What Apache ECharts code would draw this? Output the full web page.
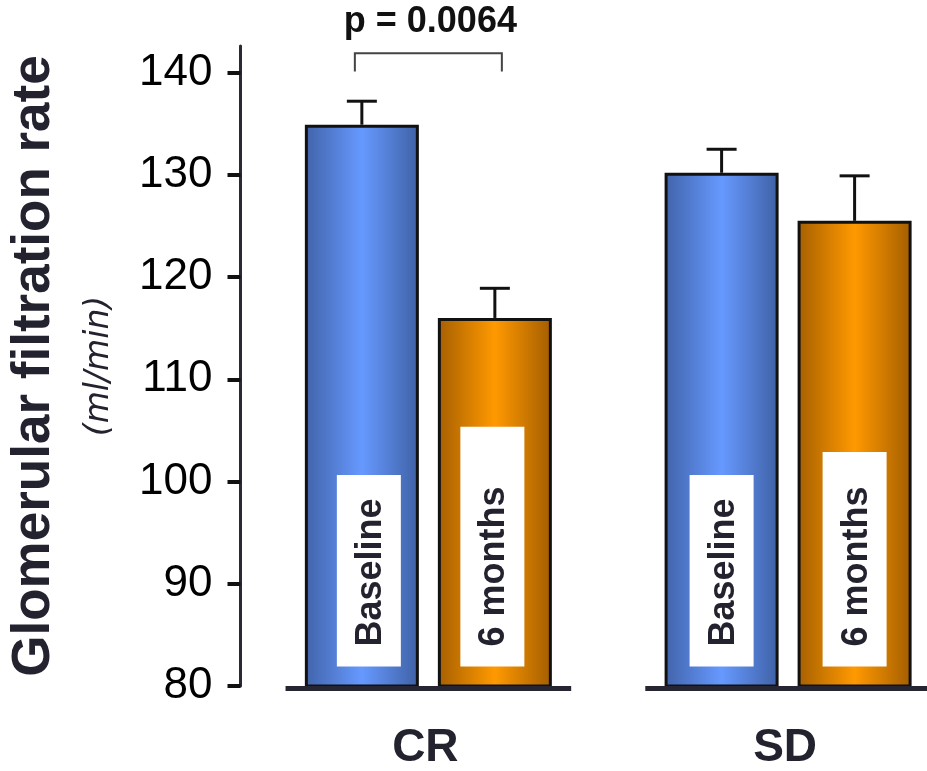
<!DOCTYPE html>
<html>
<head>
<meta charset="utf-8">
<script src="https://cdn.jsdelivr.net/npm/echarts@6/dist/echarts.min.js"></script>
<style>html,body{margin:0;padding:0;background:#fff}#chart{width:927px;height:771px}</style>
</head>
<body>
<div id="chart"></div>
<script>
// Glomerular filtration rate per group, baseline vs 6 months (mean + SE)
const groups = ['CR', 'SD'];
const seriesNames = ['Baseline', '6 months'];
const baselineMean = [134.9, 130.2];
const baselineSE = [2.3, 2.3];
const sixMonthMean = [116.0, 125.5];
const sixMonthSE = [2.9, 4.4];
const yTicks = [80, 90, 100, 110, 120, 130, 140];
const yTitle = 'Glomerular filtration rate';
const yUnit = '(ml/min)';
const pValueLabel = 'p = 0.0064';

// ---- layout & style ----
const FONT = '"Liberation Sans", Arial, Helvetica, sans-serif';
const INK = '#23232f';
const BAR_WIDTH = 114;
const BAR_GAP = 0.1667;                      // gap as a fraction of bar width
const HALF_STEP = BAR_WIDTH * (1 + BAR_GAP) / 2;
const Y_MIN = 80, Y_MAX = 142.6;
const X_MIN = -0.5222, X_MAX = 1.3861;       // groups sit at x = 0 and x = 1
// white name tags inside the bars: top edge (axis units) and sideways nudge (px)
const TAG_TOP = [[100.65, 105.35], [100.65, 102.9]];
const TAG_SHIFT = [[7, -2.5], [0, 0]];
const TAG_BOTTOM = 81.9;
const TAG_WIDTH = 64;
// significance bracket over CR (axis units)
const BRACKET = { bar: 141.9, leg: 140.1, text: 144.9 };

function sideGradient(edgeL, mid, edgeR) {
  return { type: 'linear', x: 0, y: 0, x2: 1, y2: 0,
    colorStops: [{ offset: 0, color: edgeL }, { offset: 0.5, color: mid }, { offset: 1, color: edgeR }] };
}
const barColors = [
  sideGradient('#4163a9', '#6699ff', '#3f61a5'),
  sideGradient('#a65f00', '#ff9900', '#a35d00')
];

function sideOffset(s) { return s === 0 ? -HALF_STEP : HALF_STEP; }

function barSeries(s, values) {
  return {
    type: 'bar', name: seriesNames[s], z: 2,
    data: values.map((v, i) => [i, v]),
    barWidth: BAR_WIDTH, barGap: (BAR_GAP * 100) + '%',
    itemStyle: { color: barColors[s], borderColor: '#111', borderWidth: 3 }
  };
}

function errorSeries(s, mean, se) {
  return {
    type: 'custom', z: 5, silent: true,
    data: groups.map((g, i) => [i, mean[i], mean[i] + se[i]]),
    encode: { x: 0, y: [1, 2] },
    renderItem(params, api) {
      const i = api.value(0);
      const lo = api.coord([i, api.value(1)]);
      const hi = api.coord([i, api.value(2)]);
      const x = lo[0] + sideOffset(s);
      const st = { stroke: '#111', lineWidth: 3 };
      return { type: 'group', children: [
        { type: 'line', shape: { x1: x, y1: lo[1], x2: x, y2: hi[1] }, style: st },
        { type: 'line', shape: { x1: x - 15, y1: hi[1], x2: x + 15, y2: hi[1] }, style: st }
      ] };
    }
  };
}

function tagSeries(s) {
  return {
    type: 'custom', z: 4, silent: true,
    data: groups.map((g, i) => [i, TAG_TOP[i][s]]),
    encode: { x: 0, y: 1 },
    renderItem(params, api) {
      const i = api.value(0);
      const top = api.coord([i, api.value(1)]);
      const bottom = api.coord([i, TAG_BOTTOM]);
      const cx = top[0] + sideOffset(s) + TAG_SHIFT[i][s];
      return { type: 'group', children: [
        { type: 'rect', shape: { x: cx - TAG_WIDTH / 2, y: top[1], width: TAG_WIDTH, height: bottom[1] - top[1] },
          style: { fill: '#ffffff' } },
        { type: 'text', x: cx + 2, y: bottom[1] - 20, rotation: Math.PI / 2,
          style: { text: seriesNames[s], fontSize: 36, fontWeight: 'bold', fontFamily: FONT,
                   fill: INK, align: 'left', verticalAlign: 'middle' } }
      ] };
    }
  };
}

const baselineRule = {
  type: 'custom', z: 6, silent: true,
  data: groups.map((g, i) => [i, Y_MIN]),
  encode: { x: 0, y: 1 },
  renderItem(params, api) {
    const p = api.coord([api.value(0), Y_MIN]);
    const half = api.size([1, 0])[0] * 0.397;
    return { type: 'line', shape: { x1: p[0] - half, y1: p[1] + 2.5, x2: p[0] + half, y2: p[1] + 2.5 },
             style: { stroke: '#262633', lineWidth: 5 } };
  }
};

const bracket = {
  type: 'custom', z: 5, silent: true,
  data: [[0, BRACKET.bar, BRACKET.leg, BRACKET.text]],
  encode: { x: 0, y: [1, 2] },
  renderItem(params, api) {
    const top = api.coord([0, api.value(1)]);
    const leg = api.coord([0, api.value(2)]);
    const txt = api.coord([0, api.value(3)]);
    const l = top[0] - HALF_STEP - 7, r = top[0] + HALF_STEP + 7;
    return { type: 'group', children: [
      { type: 'polyline', shape: { points: [[l, leg[1]], [l, top[1]], [r, top[1]], [r, leg[1]]] },
        style: { stroke: '#444', lineWidth: 2, fill: null } },
      { type: 'text', x: top[0] + 2, y: txt[1],
        style: { text: pValueLabel, fontSize: 36, fontWeight: 'bold', fontFamily: FONT,
                 fill: '#111', align: 'center', verticalAlign: 'middle' } }
    ] };
  }
};

const chart = echarts.init(document.getElementById('chart'), null, { renderer: 'canvas' });
chart.setOption({
  animation: false,
  backgroundColor: '#ffffff',
  grid: { left: 240, top: 46, right: 0, height: 640 },
  xAxis: {
    type: 'value', min: X_MIN, max: X_MAX,
    axisLine: { show: false, onZero: false }, axisTick: { show: false }, splitLine: { show: false },
    axisLabel: {
      customValues: groups.map((g, i) => i),
      formatter: (v) => groups[Math.round(v)],
      fontSize: 46, fontWeight: 'bold', fontFamily: FONT, color: INK, margin: 39, padding: [0, 6, 0, 0]
    }
  },
  yAxis: {
    type: 'value', min: Y_MIN, max: Y_MAX,
    splitLine: { show: false },
    axisLine: { show: true, onZero: false, lineStyle: { color: '#2a2a36', width: 3 } },
    axisTick: { show: true, length: 13, customValues: yTicks, lineStyle: { color: '#111', width: 4 } },
    axisLabel: { customValues: yTicks, fontSize: 44, fontFamily: FONT, color: '#000', margin: 28, padding: [10, 0, 0, 0] },
    name: '{t|' + yTitle + '}\n{u|' + yUnit + '}',
    nameLocation: 'middle', nameRotate: 90, nameGap: 107, nameMoveOverlap: false,
    nameTextStyle: {
      rich: {
        t: { fontSize: 53, fontWeight: 'bold', fontFamily: FONT, color: INK, lineHeight: 62, align: 'center' },
        u: { fontSize: 33, fontStyle: 'italic', fontFamily: '"DejaVu Sans", sans-serif', color: INK,
             lineHeight: 68, align: 'center' }
      }
    }
  },
  series: [
    barSeries(0, baselineMean),
    barSeries(1, sixMonthMean),
    tagSeries(0), tagSeries(1),
    errorSeries(0, baselineMean, baselineSE),
    errorSeries(1, sixMonthMean, sixMonthSE),
    baselineRule,
    bracket
  ]
});
</script>
</body>
</html>
